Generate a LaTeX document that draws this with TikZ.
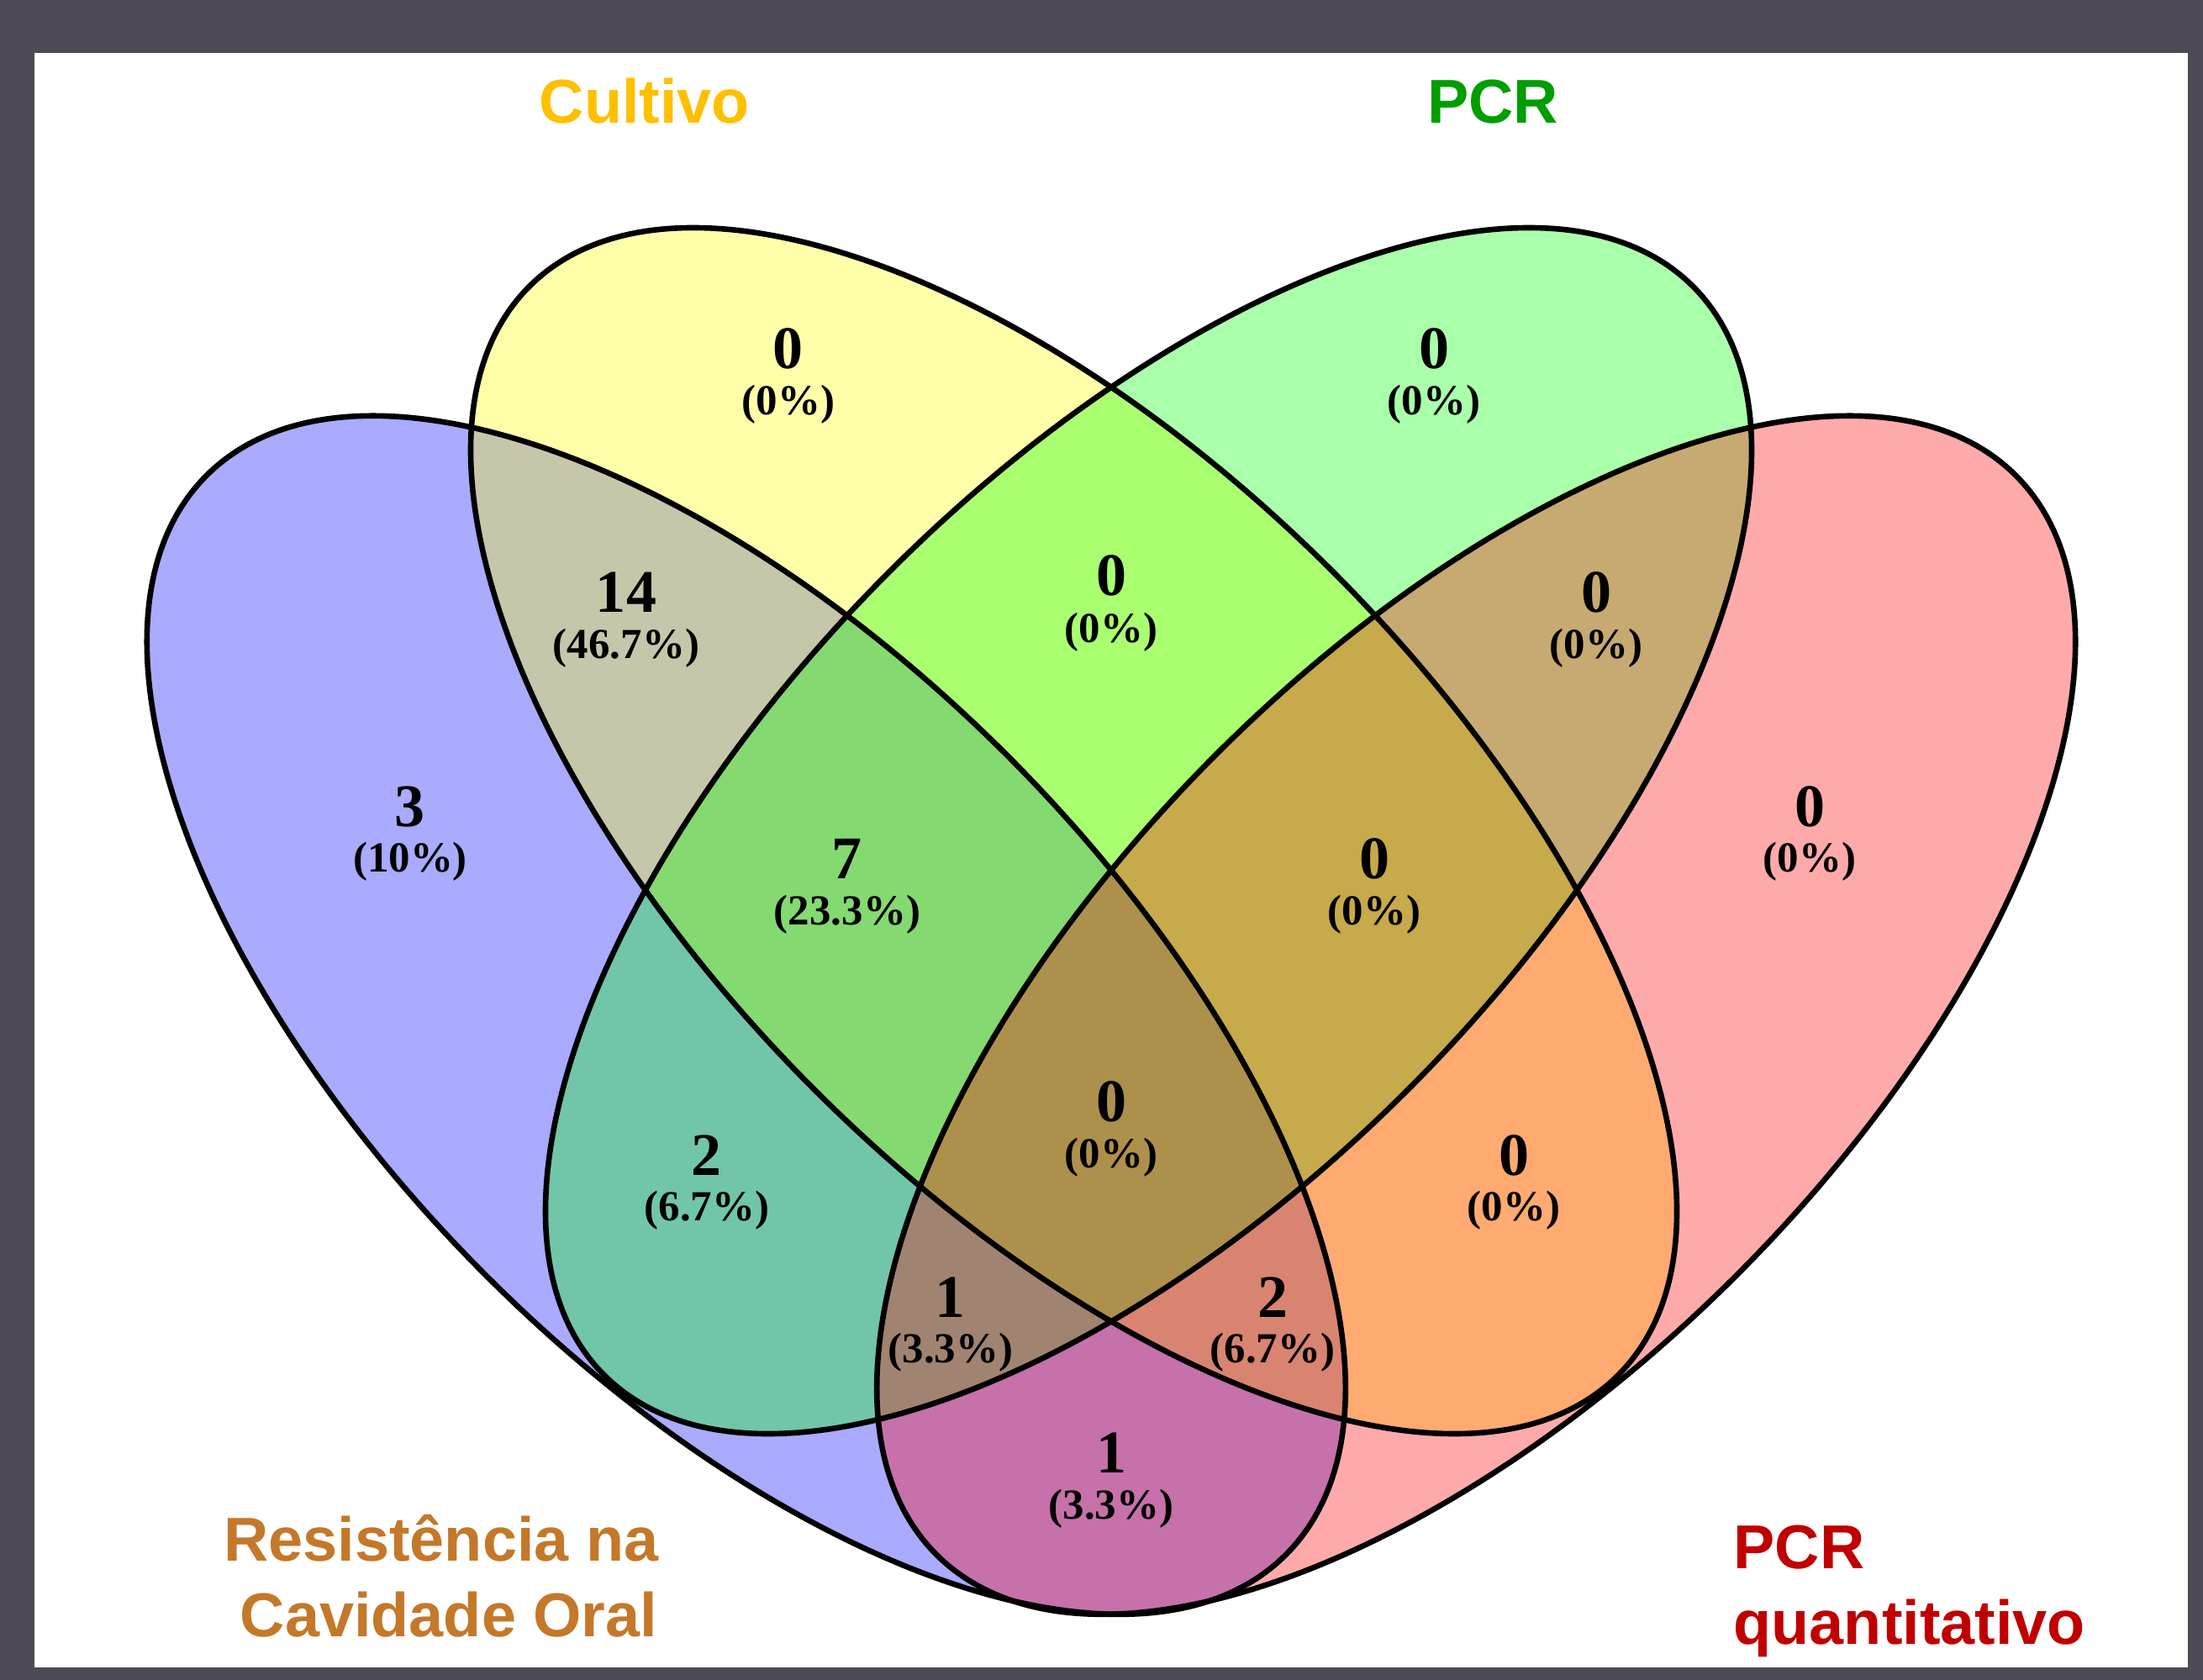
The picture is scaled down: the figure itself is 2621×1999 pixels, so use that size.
\documentclass[tikz,border=0pt]{standalone}
\usepackage{fontspec}
\setmainfont{Liberation Serif}
\newfontfamily\lblsans{Liberation Sans}
\definecolor{framegray}{RGB}{77,74,85}
\definecolor{cblue}{RGB}{0,0,255}
\definecolor{cyellow}{RGB}{255,255,0}
\definecolor{cgreen}{RGB}{0,255,0}
\definecolor{cred}{RGB}{255,0,0}
\definecolor{tcult}{RGB}{255,192,0}
\definecolor{tpcr}{RGB}{0,158,0}
\definecolor{tres}{RGB}{196,120,42}
\definecolor{tqpcr}{RGB}{192,0,0}
\tikzset{
  setfill/.style={fill opacity=0.3333},
  setline/.style={draw=black, line width=0.66mm},
  num/.style={font=\fontsize{20.5}{24}\selectfont\bfseries, anchor=base, inner sep=0pt},
  pct/.style={font=\fontsize{14.5}{17}\selectfont\bfseries, anchor=base, inner sep=0pt},
  ttl/.style={font=\lblsans\fontsize{21}{25}\selectfont\bfseries, inner sep=0pt}
}
\begin{document}
\begin{tikzpicture}[x=0.1mm,y=-0.1mm]
\useasboundingbox (0,0) rectangle (2621,1999);
\fill[framegray] (0,0) rectangle (2621,1999);
\fill[white] (41,63) rectangle (2603,1984);
% fills
\fill[cblue, setfill, rotate around={-45:(887.8,1207.8)}] (887.8,1207.8) ellipse [x radius=908, y radius=438];
\fill[cyellow, setfill, rotate around={-45:(1277.5,988.5)}] (1277.5,988.5) ellipse [x radius=916, y radius=436];
\fill[cgreen, setfill, rotate around={45:(1366.5,988.5)}] (1366.5,988.5) ellipse [x radius=916, y radius=436];
\fill[cred, setfill, rotate around={45:(1756.2,1207.8)}] (1756.2,1207.8) ellipse [x radius=908, y radius=438];
% outlines
\draw[setline, rotate around={-45:(887.8,1207.8)}] (887.8,1207.8) ellipse [x radius=908, y radius=438];
\draw[setline, rotate around={-45:(1277.5,988.5)}] (1277.5,988.5) ellipse [x radius=916, y radius=436];
\draw[setline, rotate around={45:(1366.5,988.5)}] (1366.5,988.5) ellipse [x radius=916, y radius=436];
\draw[setline, rotate around={45:(1756.2,1207.8)}] (1756.2,1207.8) ellipse [x radius=908, y radius=438];
% region labels
\node[num] (n1) at (938,439) {0};   \node[pct] (p1) at (938,494) {(0\%)};
\node[num] (n2) at (1706,439) {0};  \node[pct] (p2) at (1706,494) {(0\%)};
\node[num] (n3) at (1322,708) {0};  \node[pct] (p3) at (1322,764) {(0\%)};
\node[num] (n4) at (745,728) {14};  \node[pct] (p4) at (745,784) {(46.7\%)};
\node[num] (n5) at (1899,728) {0};  \node[pct] (p5) at (1899,784) {(0\%)};
\node[num] (n6) at (488,983) {3};   \node[pct] (p6) at (488,1037) {(10\%)};
\node[num] (n7) at (2153,983) {0};  \node[pct] (p7) at (2153,1037) {(0\%)};
\node[num] (n8) at (1008,1045) {7}; \node[pct] (p8) at (1008,1100) {(23.3\%)};
\node[num] (n9) at (1635,1045) {0}; \node[pct] (p9) at (1635,1100) {(0\%)};
\node[num] (n10) at (1322,1334) {0}; \node[pct] (p10) at (1322,1389) {(0\%)};
\node[num] (n11) at (841,1398) {2};  \node[pct] (p11) at (841,1452) {(6.7\%)};
\node[num] (n12) at (1801,1398) {0}; \node[pct] (p12) at (1801,1452) {(0\%)};
\node[num] (n13) at (1131,1567) {1}; \node[pct] (p13) at (1131,1621) {(3.3\%)};
\node[num] (n14) at (1514,1567) {2}; \node[pct] (p14) at (1514,1621) {(6.7\%)};
\node[num] (n15) at (1322,1752) {1}; \node[pct] (p15) at (1322,1807) {(3.3\%)};
% titles
\node[ttl, text=tcult, anchor=base] (tc) at (767,147) {Cultivo};
\node[ttl, text=tpcr, anchor=base] (tp) at (1776,147) {PCR};
\node[ttl, text=tres, anchor=base east] (tr1) at (784,1857) {Resistência na};
\node[ttl, text=tres, anchor=base east] (tr2) at (783,1947) {Cavidade Oral};
\node[ttl, text=tqpcr, anchor=base west] (tq1) at (2062,1866) {PCR};
\node[ttl, text=tqpcr, anchor=base west] (tq2) at (2062,1956) {quantitativo};
\end{tikzpicture}
\end{document}
